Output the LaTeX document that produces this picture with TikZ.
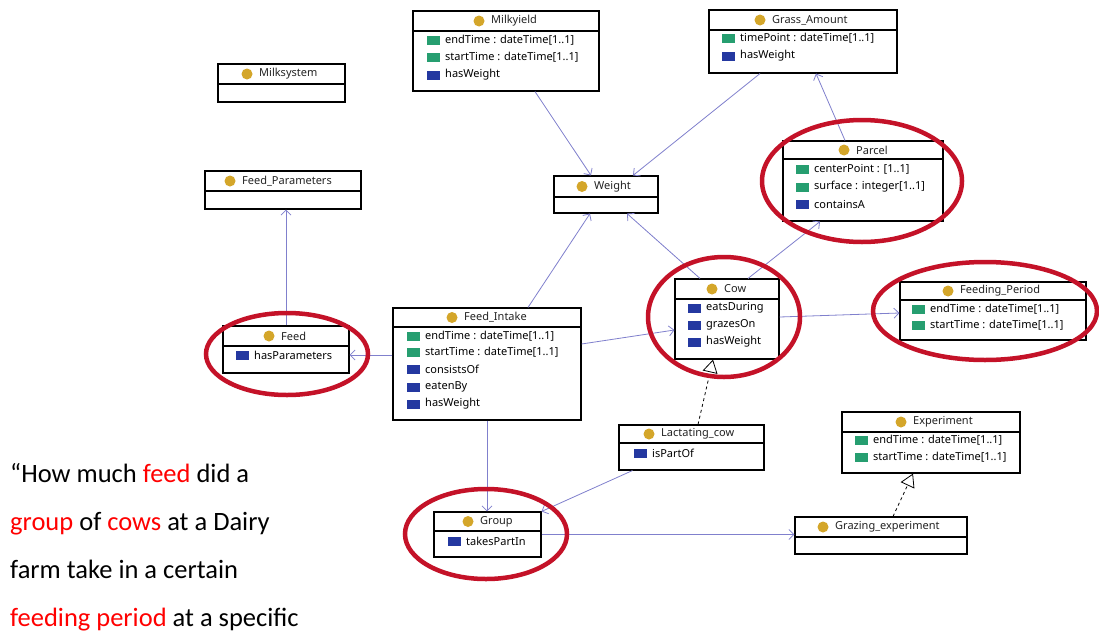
\documentclass[tikz,border=0pt]{standalone}
\usepackage{fontspec}
\setmainfont{Noto Sans}
\newfontfamily\quotefont{Carlito}
\usetikzlibrary{arrows.meta,calc,fit}

\definecolor{conn}{RGB}{128,128,205}
\definecolor{ring}{RGB}{196,18,40}
\definecolor{clsgold}{RGB}{212,166,42}
\definecolor{dtprop}{RGB}{38,158,112}
\definecolor{obprop}{RGB}{36,56,160}
\definecolor{qred}{RGB}{255,0,0}
\definecolor{txt}{RGB}{35,35,35}

\tikzset{
  classbox/.style={draw=black, line width=1.1pt, fill=white, inner sep=0pt},
  divider/.style={draw=black, line width=1.1pt},
  clsicon/.style={circle, fill=clsgold, inner sep=0pt, minimum size=11pt},
  title/.style={anchor=west, inner sep=0pt, font=\fontsize{11}{13}\selectfont, text=txt},
  rowtext/.style={anchor=west, inner sep=0pt, font=\fontsize{11}{13}\selectfont, text=black},
  assoc/.style={draw=conn, line width=0.8pt, -{Straight Barb[length=5pt,width=10pt]}},
  isa/.style={draw=black, line width=0.8pt, dashed, -{Triangle[open,length=13pt,width=15pt,fill=white]}},
  ring/.style={draw=ring, line width=4.5pt},
  quote/.style={anchor=base west, inner sep=0pt, font=\quotefont\fontsize{26.5}{30}\selectfont}
}

% class box: id, left, top, right, bottom, divider y, icon x, title
\newcommand\umlclass[8]{%
  \node[classbox, fit={(#2,#3) (#4,#5)}] (#1) {};
  \draw[divider] (#2,#6) -- (#4,#6);
  \node[clsicon] (#1-icon) at (#7,{(#3+#6)/2}) {};
  \node[title] (#1-title) at (#7+12,{(#3+#6)/2}) {#8};
}
% property row: name, colour, icon left x, centre y, text
\newcommand\umlrow[5]{%
  \fill[#2] (#3,#4-4.5) rectangle (#3+13,#4+4.5);
  \node[rowtext] (#1) at (#3+18,#4) {#5};
}

\begin{document}
\begin{tikzpicture}[x=1pt,y=-1pt]
\useasboundingbox (0,0) rectangle (1099,632);
\fill[white] (0,0) rectangle (1099,632);

% classes
\umlclass{msys}{218}{64}{345}{102}{84}{247}{Milksystem}

\umlclass{myield}{413}{11}{599}{91}{31}{479}{Milkyield}
\umlrow{myield-r1}{dtprop}{427}{40}{endTime : dateTime[1..1]}
\umlrow{myield-r2}{dtprop}{427}{57}{startTime : dateTime[1..1]}
\umlrow{myield-r3}{obprop}{427}{75}{hasWeight}

\umlclass{grass}{709}{10}{897}{73}{30}{760}{Grass\_Amount}
\umlrow{grass-r1}{dtprop}{722}{38}{timePoint : dateTime[1..1]}
\umlrow{grass-r2}{obprop}{722}{56}{hasWeight}

\umlclass{parcel}{783}{141}{943}{221}{159}{844}{Parcel}
\umlrow{parcel-r1}{dtprop}{796}{169}{centerPoint : [1..1]}
\umlrow{parcel-r2}{dtprop}{796}{187}{surface : integer[1..1]}
\umlrow{parcel-r3}{obprop}{796}{204}{containsA}

\umlclass{weight}{554}{176}{658}{213}{197}{582}{Weight}

\umlclass{fparam}{205}{171}{361}{209}{191}{230}{Feed\_Parameters}

\umlclass{feed}{223}{326}{349}{373}{346}{269}{Feed}
\umlrow{feed-r1}{obprop}{236}{355}{hasParameters}

\umlclass{intake}{393}{308}{581}{420}{327}{452}{Feed\_Intake}
\umlrow{intake-r1}{dtprop}{407}{336}{endTime : dateTime[1..1]}
\umlrow{intake-r2}{dtprop}{407}{352}{startTime : dateTime[1..1]}
\umlrow{intake-r3}{obprop}{407}{369}{consistsOf}
\umlrow{intake-r4}{obprop}{407}{387}{eatenBy}
\umlrow{intake-r5}{obprop}{407}{404}{hasWeight}

\umlclass{cow}{675}{279}{779}{359}{299}{712}{Cow}
\umlrow{cow-r1}{obprop}{688}{308}{eatsDuring}
\umlrow{cow-r2}{obprop}{688}{325}{grazesOn}
\umlrow{cow-r3}{obprop}{688}{342}{hasWeight}

\umlclass{period}{900}{282}{1086}{340}{300}{948}{Feeding\_Period}
\umlrow{period-r1}{dtprop}{912}{309}{endTime : dateTime[1..1]}
\umlrow{period-r2}{dtprop}{912}{325}{startTime : dateTime[1..1]}

\umlclass{lact}{619}{425}{764}{470}{443}{649}{Lactating\_cow}
\umlrow{lact-r1}{obprop}{634}{453}{isPartOf}

\umlclass{exper}{842}{412}{1020}{473}{432}{901}{Experiment}
\umlrow{exper-r1}{dtprop}{855}{440}{endTime : dateTime[1..1]}
\umlrow{exper-r2}{dtprop}{855}{457}{startTime : dateTime[1..1]}

\umlclass{grazing}{795}{517}{967}{554}{537}{823}{Grazing\_experiment}

\umlclass{group}{434}{512}{541}{557}{531}{468}{Group}
\umlrow{group-r1}{obprop}{448}{541}{takesPartIn}

% object property links
\draw[assoc] ($(myield.south)+(29,0)$) -- ($(weight.north)+(-15,0)$);
\draw[assoc] ($(grass.south)+(-43,0)$) -- ($(weight.north)+(27,0)$);
\draw[assoc] ($(parcel.north)+(-18,0)$) -- ($(grass.south)+(13,0)$);
\draw[assoc] ($(cow.north)+(21,0)$) -- ($(parcel.south)+(-43,0)$);
\draw[assoc] ($(cow.north)+(-27,0)$) -- ($(weight.south)+(21,0)$);
\draw[assoc] ($(intake.north)+(41,0)$) -- ($(weight.south)+(-16,0)$);
\draw[assoc] ($(intake.east)+(0,-20)$) -- ($(cow.west)+(0,11)$);
\draw[assoc] ($(cow.east)+(0,-2)$) -- ($(period.west)+(0,2)$);
\draw[assoc] ($(intake.west)+(0,-9)$) -- ($(feed.east)+(0,5.5)$);
\draw[assoc] (feed.north) -- (feed.north |- fparam.south);
\draw[assoc] (intake.south) -- (intake.south |- group.north);
\draw[assoc] ($(lact.south west)+(14,0)$) -- (group.north east);
\draw[assoc] (group.east) -- (group.east -| grazing.west);

% subclass links
\draw[isa] ($(lact.north)+(6.5,0)$) -- ($(cow.south)+(-14,0)$);
\draw[isa] ($(grazing.north)+(12,0)$) -- ($(exper.south)+(-18,0)$);

% highlight rings
\draw[ring] (862,181) ellipse [x radius=100, y radius=61];
\draw[ring] (287,354) ellipse [x radius=81, y radius=41];
\draw[ring] (724,317) ellipse [x radius=76, y radius=60];
\draw[ring] (985,311) ellipse [x radius=112, y radius=49];
\draw[ring] (486,534) ellipse [x radius=81, y radius=45];

% question text
\node[quote] (q1) at (10,482) {“How much \textcolor{qred}{feed} did a};
\node[quote] (q2) at (10,530) {\textcolor{qred}{group} of \textcolor{qred}{cows} at a Dairy};
\node[quote] (q3) at (10,578) {farm take in a certain};
\node[quote] (q4) at (10,626) {\textcolor{qred}{feeding period} at a specific};
\end{tikzpicture}
\end{document}
